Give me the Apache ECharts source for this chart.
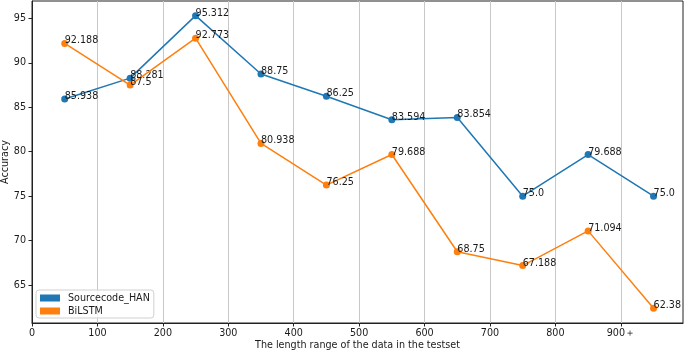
<!DOCTYPE html>
<html>
<head>
<meta charset="utf-8">
<script src="https://cdn.jsdelivr.net/npm/echarts@6/dist/echarts.min.js"></script>
<style>
  html, body { margin: 0; padding: 0; background: #fff; }
  #chart { width: 685px; height: 353px; }
</style>
</head>
<body>
<div id="chart"></div>
<script>
  // data
  var xPositions = [50, 150, 250, 350, 450, 550, 650, 750, 850, 950];
  var hanValues = [85.938, 88.281, 95.312, 88.75, 86.25, 83.594, 83.854, 75.0, 79.688, 75.0];
  var lstmValues = [92.188, 87.5, 92.773, 80.938, 76.25, 79.688, 68.75, 67.188, 71.094, 62.38];
  var xTicks = [0, 100, 200, 300, 400, 500, 600, 700, 800, 900];
  var xTickLabels = ['0', '100', '200', '300', '400', '500', '600', '700', '800', '900\uFF0B'];
  var yTicks = [65, 70, 75, 80, 85, 90, 95];

  var font = 'DejaVu Sans';
  var fs = 9.6;

  function pairs(vals) {
    return vals.map(function (v, i) { return [xPositions[i], v]; });
  }

  function fmt(p) {
    var v = p.value[1];
    return Number.isInteger(v) ? v.toFixed(1) : String(v);
  }

  function lineSeries(name, vals, color, z) {
    return {
      name: name,
      type: 'line',
      data: pairs(vals),
      symbol: 'circle',
      symbolSize: 7,
      z: z,
      lineStyle: { color: color, width: 1.5 },
      itemStyle: { color: color },
      label: {
        show: true,
        formatter: fmt,
        position: [3.5, 6],
        align: 'left',
        verticalAlign: 'bottom',
        fontFamily: font,
        fontSize: fs,
        color: '#1a1a1a'
      },
      emphasis: { disabled: true },
      animation: false
    };
  }

  var chart = echarts.init(document.getElementById('chart'));
  chart.setOption({
    animation: false,
    color: ['#1f77b4', '#ff7f0e'],
    grid: {
      left: 32, right: 2, top: 1, bottom: 30,
      outerBoundsMode: 'none',
      containLabel: false,
      show: true, borderColor: '#222', borderWidth: 1
    },
    legend: {
      orient: 'vertical',
      left: 36, top: 290,
      data: [
        { name: 'Sourcecode_HAN', icon: 'rect' },
        { name: 'BiLSTM', icon: 'rect' }
      ],
      itemWidth: 20,
      itemHeight: 7,
      itemGap: 3,
      padding: [3, 4, 2, 4],
      borderColor: '#d0d0d0',
      borderWidth: 1,
      borderRadius: 3,
      backgroundColor: 'rgba(255,255,255,0.8)',
      textStyle: { fontFamily: font, fontSize: fs, color: '#1a1a1a', padding: [0, 0, 0, 3] }
    },
    xAxis: {
      type: 'value',
      min: 0,
      max: 995,
      interval: 100,
      name: 'The length range of the data in the testset',
      nameLocation: 'middle',
      nameGap: 17,
      nameMoveOverlap: false,
      nameTextStyle: { fontFamily: font, fontSize: fs, color: '#1a1a1a' },
      axisLine: { show: true, lineStyle: { color: '#222', width: 1 } },
      axisTick: { show: true, length: 3.5, customValues: xTicks, lineStyle: { color: '#222' } },
      axisLabel: {
        customValues: xTicks,
        formatter: function (v) {
          var i = xTicks.indexOf(v);
          return i >= 0 ? xTickLabels[i] : '';
        },
        margin: 5,
        fontFamily: font, fontSize: fs, color: '#1a1a1a'
      },
      splitLine: { show: true, lineStyle: { color: '#c8c8c8', width: 1 } }
    },
    yAxis: {
      type: 'value',
      min: 60.73,
      max: 96.96,
      name: 'Accuracy',
      nameLocation: 'middle',
      nameGap: 22,
      nameMoveOverlap: false,
      nameTextStyle: { fontFamily: font, fontSize: fs, color: '#1a1a1a' },
      axisLine: { show: true, lineStyle: { color: '#222', width: 1 } },
      axisTick: { show: true, length: 3.5, customValues: yTicks, lineStyle: { color: '#222' } },
      axisLabel: {
        customValues: yTicks,
        margin: 6,
        fontFamily: font, fontSize: fs, color: '#1a1a1a'
      },
      splitLine: { show: false }
    },
    series: [
      lineSeries('Sourcecode_HAN', hanValues, '#1f77b4', 2),
      lineSeries('BiLSTM', lstmValues, '#ff7f0e', 3)
    ]
  });
</script>
</body>
</html>
